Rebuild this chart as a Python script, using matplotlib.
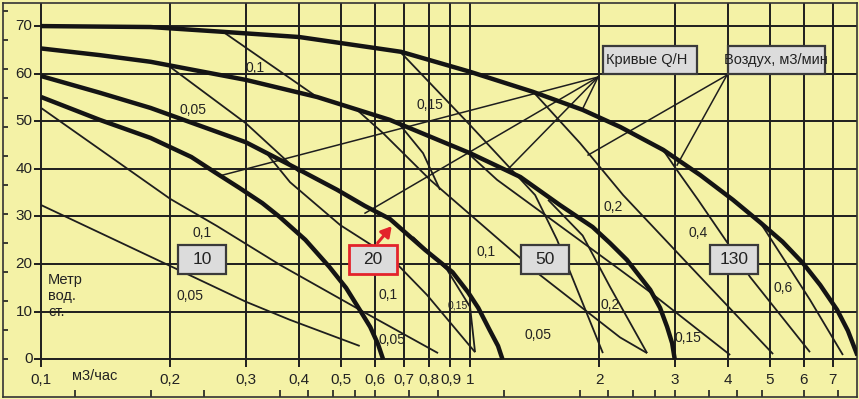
import matplotlib.pyplot as plt
from matplotlib.patches import Rectangle
from matplotlib.transforms import Affine2D, ScaledTranslation

plt.rcParams['font.family'] = ['Liberation Sans', 'DejaVu Sans']

# pump Q/H curves, Q in m3/h, H in m
q_10 = [0.1, 0.137, 0.18, 0.224, 0.254, 0.29, 0.328, 0.36, 0.413, 0.47, 0.514, 0.553, 0.585, 0.61, 0.627]
h_10 = [55.1, 50.3, 46.5, 42.5, 39.3, 36.0, 32.8, 29.9, 25.1, 19.4, 15.0, 10.4, 6.8, 3.2, 0.0]
q_20 = [0.1, 0.137, 0.18, 0.3, 0.4, 0.49, 0.569, 0.65, 0.785, 0.91, 0.989, 1.045, 1.11, 1.162, 1.19]
h_20 = [59.5, 56.0, 52.8, 45.6, 39.8, 35.6, 32.2, 29.5, 23.0, 18.3, 14.1, 10.8, 6.2, 2.8, 0.0]
q_50 = [0.1, 0.137, 0.18, 0.3, 0.44, 0.65, 1.0, 1.31, 1.62, 1.93, 2.12, 2.32, 2.63, 2.773, 2.88, 2.958, 3.0]
h_50 = [65.3, 63.9, 62.5, 58.7, 55.1, 50.3, 43.3, 38.3, 32.4, 27.8, 24.4, 20.9, 14.6, 10.8, 6.8, 3.4, 0.0]
q_130 = [0.1, 0.18, 0.265, 0.4, 0.69, 1.0, 1.4, 1.83, 2.24, 2.82, 3.44, 4.1, 4.74, 5.35, 5.97, 6.55, 7.17, 7.6, 8.0]
h_130 = [70.0, 69.8, 68.8, 67.7, 64.6, 60.4, 56.2, 52.4, 48.8, 44.0, 38.7, 33.5, 28.8, 24.7, 20.2, 15.6, 10.4, 6.0, 0.8]

# air consumption lines (m3/min)
q_10_005 = [0.1, 0.2, 0.3, 0.38, 0.553]
h_10_005 = [32.4, 19.6, 12.1, 8.3, 2.8]
q_10_01 = [0.1, 0.2, 0.257, 0.361, 0.553, 0.842]
h_10_01 = [52.8, 33.7, 28.0, 19.8, 10.4, 1.3]
q_20_005 = [0.2, 0.3, 0.4017]
h_20_005 = [61.4, 49.6, 39.1]
q_20_01 = [0.338, 0.3805, 0.498, 0.651, 0.794, 1.027]
h_20_01 = [42.9, 37.2, 28.2, 21.5, 13.5, 1.5]
q_20_015 = [0.736, 0.884, 1.0, 1.027]
h_20_015 = [25.7, 18.8, 11.0, 1.5]
q_50_005 = [0.545, 0.627, 0.807, 1.308, 1.456, 2.237, 2.586]
h_50_005 = [52.4, 47.5, 37.7, 21.3, 17.7, 4.6, 1.3]
q_50_01 = [0.687, 0.777, 0.851]
h_50_01 = [49.2, 43.3, 35.6]
q_50_015 = [1.0, 1.156, 2.237, 2.586, 4.04]
h_50_015 = [42.9, 37.7, 18.8, 14.6, 0.9]
q_50_02 = [1.52, 1.83, 2.12, 2.586]
h_50_02 = [33.5, 26.0, 15.2, 1.3]
q_130_01 = [0.2655, 0.4398]
h_130_01 = [68.8, 55.1]
q_130_015 = [0.687, 1.0, 1.418, 1.595, 2.04]
h_130_015 = [64.6, 49.2, 34.5, 25.1, 1.3]
q_130_02 = [1.403, 1.805, 2.274, 3.44, 5.086]
h_130_02 = [56.2, 45.4, 34.5, 17.3, 1.1]
q_130_04 = [2.818, 3.0, 3.40, 4.0, 4.495, 6.2]
h_130_04 = [44.0, 40.4, 33.5, 24.2, 17.3, 1.5]
q_130_06 = [4.74, 4.925, 6.2, 7.40]
h_130_06 = [28.8, 26.5, 12.5, 0.9]

# pointer lines from the two legend boxes
curves_tip = (1.988, 59.3)
curves_q = [0.265, 0.569, 1.24, 1.834]
curves_h = [38.7, 30.7, 40.4, 52.8]
air_tip = (3.97, 59.7)
air_q = [3.038, 1.884]
air_h = [40.8, 42.9]

# value labels
lab_text = ['0,1', '0,05', '0,15', '0,1', '0,05', '0,1', '0,05', '0,1', '0,05',
            '0,2', '0,15', '0,2', '0,4', '0,6']
lab_q = [0.3155, 0.226, 0.807, 0.237, 0.2225, 0.644, 0.658, 1.09, 1.44,
         2.12, 3.22, 2.155, 3.40, 5.37]
lab_h = [61.2, 52.4, 53.4, 26.5, 13.3, 13.5, 4.1, 22.5, 5.1,
         11.4, 4.5, 32.0, 26.5, 15.0]
small_lab = ('0,15', 0.938, 11.4)

pump_names = ['10', '20', '50', '130']
pump_box_q = [0.237, 0.594, 1.496, 4.125]
pump_box_h = 20.9

x_ticks = [0.1, 0.2, 0.3, 0.4, 0.5, 0.6, 0.7, 0.8, 0.9, 1, 2, 3, 4, 5, 6, 7]
x_labels = ['0,1', '0,2', '0,3', '0,4', '0,5', '0,6', '0,7', '0,8', '0,9', '1',
            '2', '3', '4', '5', '6', '7']
y_ticks = [0, 10, 20, 30, 40, 50, 60, 70]
feet_ticks = [i * 20 * 0.3048 for i in range(13)]
lmin_ticks = [v * 0.06 for v in [2, 3, 4, 6, 7, 8, 9, 10, 12, 14, 20, 30, 35,
                                  40, 45, 50, 60, 70, 80, 100, 120]]

bg = '#f4f2a6'
ink = '#1e1e1e'

fig = plt.figure(figsize=(8.59, 3.99), dpi=100, facecolor=bg)
ax = fig.add_axes([3 / 859, 2 / 399, 854 / 859, 394 / 399])
ax.set_facecolor(bg)
ax.set_xscale('log')
ax.set_xlim(0.0815, 7.98)
ax.set_ylim(-7.92, 74.85)
ax.set_xticks([])
ax.set_yticks([])
ax.minorticks_off()
for s in ax.spines.values():
    s.set_color('#333333')
    s.set_linewidth(1.2)

# grid
ax.hlines(y_ticks, 0.0963, 7.98, color=ink, lw=1.4, zorder=1)
ax.vlines(x_ticks, -1.7, 74.85, color=ink, lw=1.4, zorder=1)

# edge ticks (feet / l/min)
ax.vlines(lmin_ticks, -7.92, -6.4, color=ink, lw=1.2)
ax.hlines(feet_ticks, 0.0815, 0.0836, color=ink, lw=1.2)

for t, l in zip(x_ticks, x_labels):
    ax.text(t, -4.4, l, ha='center', va='center', fontsize=11, color='#222')
for t in y_ticks:
    ax.text(0.0955, t, str(t), ha='right', va='center', fontsize=11, color='#222')
ax.text(0.118, -3.6, 'м3/час', ha='left', va='center', fontsize=10.5, color='#222')
ax.text(0.1037, 13.3, 'Метр\nвод.\nст.', ha='left', va='center', fontsize=10.5,
        color='#222', linespacing=1.15)

# thin air lines
thin = [(q_10_005, h_10_005), (q_10_01, h_10_01), (q_20_005, h_20_005),
        (q_20_01, h_20_01), (q_20_015, h_20_015),
        (q_50_005, h_50_005), (q_50_01, h_50_01), (q_50_015, h_50_015),
        (q_50_02, h_50_02), (q_130_01, h_130_01), (q_130_015, h_130_015),
        (q_130_02, h_130_02), (q_130_04, h_130_04), (q_130_06, h_130_06)]
for q, h in thin:
    ax.plot(q, h, color=ink, lw=1.3, zorder=3, solid_capstyle='butt')

for q, h in zip(curves_q, curves_h):
    ax.plot([curves_tip[0], q], [curves_tip[1], h], color=ink, lw=1.1, zorder=3)
for q, h in zip(air_q, air_h):
    ax.plot([air_tip[0], q], [air_tip[1], h], color=ink, lw=1.1, zorder=3)

# thick pump curves
for q, h in [(q_10, h_10), (q_20, h_20), (q_50, h_50), (q_130, h_130)]:
    ax.plot(q, h, color='#141414', lw=3.2, zorder=4, solid_capstyle='butt',
            solid_joinstyle='round')

for t, q, h in zip(lab_text, lab_q, lab_h):
    ax.text(q, h, t, ha='center', va='center', fontsize=10, color='#222', zorder=5)
ax.text(small_lab[1], small_lab[2], small_lab[0], ha='center', va='center',
        fontsize=7.5, color='#222', zorder=5)


def box(q, h, w, hh, txt, ec='#3a3a3a', lw=1.6, fs=12.5, dx=0):
    tr = Affine2D() + ScaledTranslation(q, h, ax.transData)
    ax.add_patch(Rectangle((-w / 2, -hh / 2), w, hh, transform=tr, facecolor='#dcdcdc',
                           edgecolor=ec, lw=lw, zorder=6, clip_on=False))
    tt = Affine2D().translate(dx, 0) + ScaledTranslation(q, h, ax.transData)
    ax.text(0, 0, txt, transform=tt, ha='center', va='center', fontsize=fs,
            color='#222', zorder=7)


for name, q in zip(pump_names, pump_box_q):
    box(q, pump_box_h, 48, 29, name,
        ec='#e3232b' if name == '20' else '#3a3a3a', lw=2.0 if name == '20' else 1.6)
box(2.628, 62.9, 94, 28, 'Кривые Q/H', fs=10.5, dx=-3)
box(5.17, 62.9, 97, 28, 'Воздух, м3/мин', fs=10.5)

ax.annotate('', xy=(0.663, 28.4), xytext=(0.603, 24.0),
            arrowprops=dict(arrowstyle='-|>,head_length=0.6,head_width=0.35',
                            color='#e3232b', lw=2.2), zorder=8)

fig.savefig('out.png', dpi=100, facecolor=bg)
